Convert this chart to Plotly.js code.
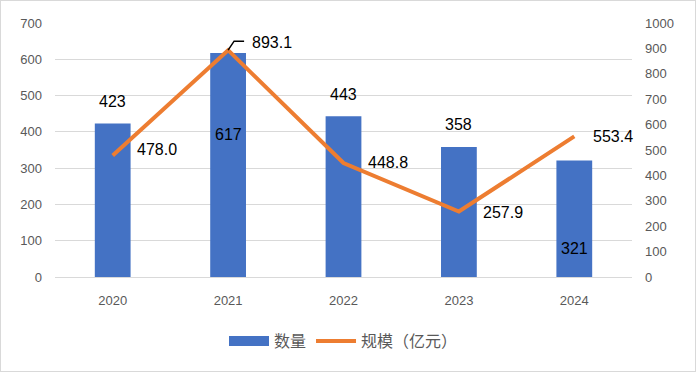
<!DOCTYPE html>
<html><head><meta charset="utf-8">
<script src="https://cdn.plot.ly/plotly-3.0.1.min.js"></script>
<style>html,body{margin:0;padding:0;background:#fff}#wrap{position:relative;width:696px;height:372px}#c{width:696px;height:372px}#frame{position:absolute;left:0;top:0;width:694px;height:370px;border:1px solid #d9d9d9;pointer-events:none}</style>
</head><body><div id="wrap"><div id="c"></div><div id="frame"></div></div>
<script>
const years = ['2020','2021','2022','2023','2024'];
const counts = [423, 617, 443, 358, 321];
const scale = [478.0, 893.1, 448.8, 257.9, 553.4];
const countName = '数量';
const scaleName = '规模（亿元）';
// label offsets (pixels) relative to each point
const countLabelShift = [22, -81, 22, 23, -88];
const scaleLabelShift = [[22, 6], [22, 8], [22, 1], [22, -1], [17, 0]];

const numFont = {family: 'Liberation Sans, Arial, sans-serif', size: 16, color: '#000'};
const tickFont = {family: 'Liberation Sans, Arial, sans-serif', size: 13, color: '#595959'};

const traces = [
  {type: 'bar', x: years, y: counts, name: countName, marker: {color: '#4472C4'}, yaxis: 'y', hoverinfo: 'skip', showlegend: false, legendgroup: 'c'},
  // legend swatch for the bars (wide rectangle like the original)
  {type: 'scatter', mode: 'lines', x: [null], y: [null], name: countName, line: {color: '#4472C4', width: 14}, yaxis: 'y', hoverinfo: 'skip', legendgroup: 'c'},
  {type: 'scatter', mode: 'lines', x: years, y: scale, name: scaleName, line: {color: '#ED7D31', width: 4}, yaxis: 'y2', hoverinfo: 'skip'}
];

const annotations = [];
years.forEach((yr, i) => {
  annotations.push({x: i, y: counts[i], xref: 'x', yref: 'y', text: String(counts[i]), showarrow: false, font: numFont, yshift: countLabelShift[i], xanchor: 'center', yanchor: 'middle'});
});
years.forEach((yr, i) => {
  annotations.push({x: i, y: scale[i], xref: 'x', yref: 'y2', text: scale[i].toFixed(1), showarrow: false, font: numFont, xshift: scaleLabelShift[i][0], yshift: scaleLabelShift[i][1], xanchor: 'left', yanchor: 'middle'});
});

// leader line for the peak label (elbow), anchored at the peak point
const shapes = [{
  type: 'path', xref: 'x', yref: 'y2', xsizemode: 'pixel', ysizemode: 'pixel',
  xanchor: 1, yanchor: scale[1], path: 'M0,0 L6,9 L16,9',
  line: {color: '#000', width: 1.5}, layer: 'above'
}];

const layout = {
  width: 696, height: 372,
  margin: {l: 55, r: 64, t: 23, b: 95},
  paper_bgcolor: '#fff', plot_bgcolor: '#fff',
  bargap: 0.69,
  showlegend: true,
  legend: {orientation: 'h', x: 0.5, xanchor: 'center', y: -0.252, yanchor: 'middle',
           font: {family: 'Noto Sans CJK SC, sans-serif', size: 16, color: '#595959'}, itemwidth: 40, tracegroupgap: 0},
  xaxis: {type: 'category', range: [-0.5, years.length - 0.5], autorange: false, tickfont: tickFont, showgrid: false, zeroline: false, showline: false, ticks: '', ticklabelstandoff: 14, fixedrange: true},
  yaxis: {range: [0, 700], autorange: false, dtick: 100, tickfont: tickFont, gridcolor: '#d9d9d9', gridwidth: 1, zeroline: true, zerolinecolor: '#d9d9d9', zerolinewidth: 1, showline: false, ticks: '', ticklabelstandoff: 12, fixedrange: true},
  yaxis2: {range: [0, 1000], autorange: false, dtick: 100, overlaying: 'y', side: 'right', tickfont: tickFont, showgrid: false, zeroline: false, showline: false, ticks: '', ticklabelstandoff: 12, fixedrange: true},
  annotations: annotations,
  shapes: shapes
};

Plotly.newPlot('c', traces, layout, {displayModeBar: false, staticPlot: true});
</script></body></html>
